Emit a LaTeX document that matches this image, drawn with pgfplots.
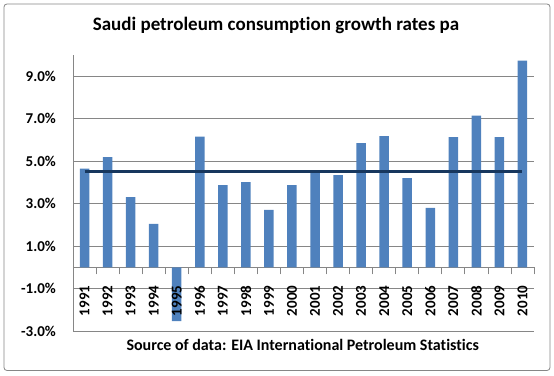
\documentclass[border=0pt]{standalone}
\usepackage{pgfplots}
\pgfplotsset{compat=1.18}
\usepackage{fontspec}
\setmainfont{Carlito}[Ligatures=NoCommon]
\definecolor{barblue}{RGB}{79,129,189}
\definecolor{avgnavy}{RGB}{23,55,94}
\definecolor{gridgray}{RGB}{134,134,134}
\begin{document}
\begin{tikzpicture}[x=1pt,y=1pt]
\draw[gridgray, line width=0.8pt, rounded corners=3pt] (4,4.5) rectangle (550,371);
\path (0,0) rectangle (554,375);
\node[font=\bfseries\fontsize{19}{22}\selectfont] at (276,350) {Saudi petroleum consumption growth rates pa};
\node[font=\bfseries\fontsize{16}{19}\selectfont] at (302.7,30) {Source of data: EIA International Petroleum Statistics};
\begin{axis}[
  set layers=standard,
  at={(73pt,44pt)}, anchor=south west,
  width=461pt, height=276pt, scale only axis,
  xmin=-0.5, xmax=19.5, ymin=-3, ymax=10,
  axis x line=middle, axis y line=left,
  axis line style={gridgray, -, line width=0.8pt},
  ytick={-3,-1,1,3,5,7,9},
  ymajorgrids, grid style={gridgray, line width=0.8pt},
  major y tick style={draw=none},
  xtick={0,...,19},
  xticklabels={1991,1992,1993,1994,1995,1996,1997,1998,1999,2000,2001,2002,2003,2004,2005,2006,2007,2008,2009,2010},
  major x tick style={draw=none},
  minor xtick={-0.5,0.5,...,19.5},
  minor x tick style={gridgray, line width=0.8pt},
  minor tick length=7pt,
  xtick align=outside,
  /pgf/number format/assume math mode=true,
  yticklabel={\pgfmathprintnumber[fixed,fixed zerofill,precision=1]{\tick}\%},
  yticklabel style={font=\bfseries\fontsize{15}{17}\selectfont, xshift=-11.5pt},
  xticklabel style={/pgfplots/on layer=axis foreground, font=\bfseries\fontsize{15}{17}\selectfont, rotate=90, anchor=east, xshift=-10.5pt},
  clip=false,
]
\addplot[ybar, bar width=9.5pt, fill=barblue, draw=none] coordinates {
(0,4.65) (1,5.19) (2,3.31) (3,2.05) (4,-2.54) (5,6.15) (6,3.87) (7,4.01) (8,2.70) (9,3.87)
(10,4.50) (11,4.34) (12,5.85) (13,6.18) (14,4.20) (15,2.80) (16,6.13) (17,7.14) (18,6.13) (19,9.74)
};
\addplot[avgnavy, line width=2.8pt, mark=none] coordinates {(0,4.52) (19,4.52)};
\end{axis}
\end{tikzpicture}
\end{document}
